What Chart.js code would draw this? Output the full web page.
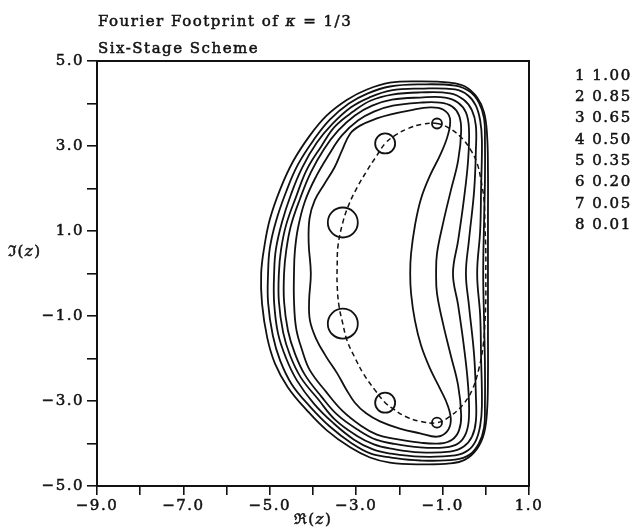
<!DOCTYPE html>
<html>
<head>
<meta charset="utf-8">
<script src="https://cdn.jsdelivr.net/npm/chart.js@4.4.1/dist/chart.umd.min.js"></script>
<style>
  html, body { margin: 0; padding: 0; background: #fff; }
  #wrap { width: 636px; height: 529px; }
</style>
</head>
<body>
<div id="wrap"><canvas id="c" width="636" height="529"></canvas></div>
<script>
// Contours of the amplification factor |g(z)|, outermost (1.00) to innermost
const level100 = [[0.05,0.00],[0.05,1.25],[0.05,2.42],[0.03,3.25],[-0.04,3.79],[-0.20,4.14],[-0.48,4.40],[-0.83,4.49],[-1.52,4.52],[-2.22,4.49],[-2.75,4.33],[-3.21,4.09],[-3.68,3.72],[-4.07,3.25],[-4.46,2.64],[-4.76,1.98],[-5.00,1.27],[-5.13,0.61],[-5.20,0.00],[-5.18,-0.71],[-5.06,-1.51],[-4.88,-2.12],[-4.58,-2.68],[-4.14,-3.22],[-3.68,-3.69],[-3.14,-4.09],[-2.68,-4.33],[-2.22,-4.45],[-1.52,-4.49],[-0.83,-4.47],[-0.48,-4.38],[-0.20,-4.12],[-0.04,-3.76],[0.03,-3.22],[0.05,-2.40],[0.05,-1.34]];
const level085 = [[-0.06,0.00],[-0.04,1.25],[-0.02,2.19],[-0.02,3.13],[-0.04,3.65],[-0.16,4.02],[-0.37,4.28],[-0.71,4.42],[-1.52,4.45],[-2.22,4.40],[-2.73,4.24],[-3.17,4.00],[-3.61,3.62],[-3.98,3.15],[-4.35,2.56],[-4.62,1.93],[-4.86,1.22],[-5.00,0.59],[-5.04,0.00],[-5.04,-0.68],[-4.93,-1.46],[-4.76,-2.05],[-4.49,-2.61],[-4.07,-3.13],[-3.61,-3.60],[-3.10,-4.00],[-2.66,-4.24],[-2.19,-4.33],[-1.52,-4.40],[-0.71,-4.38],[-0.37,-4.26],[-0.16,-4.00],[-0.04,-3.62],[-0.02,-3.11],[-0.02,-2.16],[-0.04,-1.11]];
const level065 = [[-0.20,0.00],[-0.13,1.01],[-0.11,1.95],[-0.09,3.13],[-0.13,3.60],[-0.23,3.95],[-0.41,4.19],[-0.71,4.33],[-1.52,4.35],[-2.19,4.31],[-2.70,4.14],[-3.12,3.91],[-3.54,3.53],[-3.91,3.08],[-4.25,2.49],[-4.51,1.86],[-4.72,1.20],[-4.86,0.56],[-4.90,0.00],[-4.90,-0.68],[-4.81,-1.41],[-4.62,-2.00],[-4.37,-2.52],[-3.98,-3.06],[-3.54,-3.51],[-3.05,-3.91],[-2.61,-4.14],[-2.19,-4.24],[-1.52,-4.31],[-0.71,-4.28],[-0.41,-4.16],[-0.23,-3.93],[-0.13,-3.58],[-0.09,-3.11],[-0.11,-1.93],[-0.13,-0.99]];
const level050 = [[-0.46,0.00],[-0.39,0.78],[-0.27,1.95],[-0.23,2.89],[-0.23,3.48],[-0.32,3.84],[-0.51,4.09],[-0.83,4.24],[-1.52,4.26],[-2.17,4.21],[-2.66,4.07],[-3.07,3.81],[-3.49,3.46],[-3.81,2.99],[-4.14,2.45],[-4.39,1.81],[-4.62,1.15],[-4.74,0.56],[-4.79,0.00],[-4.79,-0.66],[-4.69,-1.39],[-4.53,-1.93],[-4.28,-2.45],[-3.88,-2.96],[-3.49,-3.44],[-3.00,-3.81],[-2.59,-4.02],[-2.19,-4.12],[-1.52,-4.21],[-0.83,-4.19],[-0.51,-4.07],[-0.32,-3.84],[-0.23,-3.48],[-0.23,-2.87],[-0.27,-1.93],[-0.39,-0.75]];
const level035 = [[-0.76,0.00],[-0.64,0.78],[-0.51,1.72],[-0.41,2.66],[-0.39,3.41],[-0.46,3.79],[-0.64,4.02],[-0.94,4.14],[-1.52,4.14],[-2.17,4.09],[-2.63,3.95],[-3.03,3.72],[-3.42,3.36],[-3.75,2.92],[-4.05,2.38],[-4.30,1.76],[-4.51,1.13],[-4.62,0.54],[-4.67,0.00],[-4.67,-0.66],[-4.58,-1.34],[-4.42,-1.88],[-4.19,-2.38],[-3.81,-2.89],[-3.42,-3.34],[-2.94,-3.69],[-2.54,-3.91],[-2.17,-4.00],[-1.52,-4.09],[-0.94,-4.09],[-0.64,-4.00],[-0.46,-3.76],[-0.39,-3.39],[-0.41,-2.64],[-0.51,-1.69],[-0.64,-0.75]];
const level020 = [[-1.15,0.00],[-1.13,0.47],[-0.99,1.18],[-0.81,1.95],[-0.64,2.66],[-0.57,3.36],[-0.62,3.72],[-0.78,3.93],[-1.06,4.02],[-1.52,4.02],[-2.15,3.95],[-2.59,3.81],[-2.96,3.60],[-3.33,3.25],[-3.63,2.80],[-3.93,2.28],[-4.19,1.69],[-4.35,1.06],[-4.42,0.52],[-4.44,0.00],[-4.44,-0.64],[-4.39,-1.29],[-4.25,-1.81],[-4.07,-2.28],[-3.70,-2.78],[-3.33,-3.22],[-2.89,-3.58],[-2.52,-3.79],[-2.17,-3.88],[-1.52,-3.98],[-1.06,-4.00],[-0.78,-3.91],[-0.62,-3.69],[-0.57,-3.34],[-0.64,-2.64],[-0.81,-1.93],[-0.99,-1.18],[-1.13,-0.47]];
const level005 = [[-1.75,0.00],[-1.73,0.47],[-1.64,1.13],[-1.50,1.76],[-1.29,2.31],[-1.06,2.78],[-0.88,3.25],[-0.83,3.65],[-0.99,3.86],[-1.29,3.91],[-1.75,3.84],[-2.22,3.74],[-2.52,3.65],[-2.91,3.48],[-3.14,3.29],[-3.33,2.89],[-3.50,2.50],[-3.74,2.10],[-3.96,1.72],[-4.08,1.30],[-4.10,0.72],[-4.05,0.00],[-4.09,-0.64],[-4.07,-1.11],[-3.93,-1.53],[-3.70,-1.95],[-3.44,-2.35],[-3.24,-2.71],[-3.03,-3.04],[-2.77,-3.29],[-2.45,-3.48],[-1.99,-3.65],[-1.52,-3.76],[-1.13,-3.84],[-0.90,-3.72],[-0.81,-3.46],[-0.88,-3.11],[-1.06,-2.71],[-1.29,-2.24],[-1.50,-1.69],[-1.64,-1.11],[-1.73,-0.47]];

// Fourier footprint of the spatial operator (dashed loop)
const footprint = [[-1.13,3.53],[-0.83,3.41],[-0.55,3.18],[-0.34,2.89],[-0.20,2.59],[-0.11,2.19],[-0.04,1.72],[-0.02,1.13],[0.00,0.54],[0.00,0.00],[0.00,-0.59],[-0.02,-1.15],[-0.06,-1.69],[-0.16,-2.24],[-0.32,-2.75],[-0.55,-3.11],[-0.83,-3.36],[-1.13,-3.51],[-1.52,-3.48],[-1.87,-3.36],[-2.15,-3.18],[-2.33,-3.04],[-2.56,-2.75],[-2.82,-2.38],[-3.03,-1.98],[-3.21,-1.58],[-3.31,-1.18],[-3.40,-0.75],[-3.44,-0.28],[-3.44,0.19],[-3.42,0.66],[-3.31,1.20],[-3.17,1.62],[-2.98,2.02],[-2.75,2.42],[-2.52,2.78],[-2.33,3.06],[-2.10,3.25],[-1.80,3.41],[-1.48,3.51]];

// Marked footprint points (circled)
const markedPoints = [[-1.13,3.53],[-2.33,3.06],[-3.31,1.20],[-3.31,-1.18],[-2.33,-3.04],[-1.13,-3.51]];

// Axis ticks and legend entries
const xTickValues = [-9, -7, -5, -3, -1, 1];
const xTickLabels = ['\u22129.0', '\u22127.0', '\u22125.0', '\u22123.0', '\u22121.0', '1.0'];
const yTickValues = [-5, -3, -1, 1, 3, 5];
const yTickLabels = ['\u22125.0', '\u22123.0', '\u22121.0', '1.0', '3.0', '5.0'];
const levelNumbers = ['1', '2', '3', '4', '5', '6', '7', '8'];
const levelValues = ['1.00', '0.85', '0.65', '0.50', '0.35', '0.20', '0.05', '0.01'];

const SERIF = '"DejaVu Serif", "Liberation Serif", serif';
const INK = '#111';
const TEXT_SIZE = 15;
const TRACKING = '1.5px';

const toPoints = pts => pts.map(([x, y]) => ({ x, y }));

const contourSets = [level100, level085, level065, level050, level035, level020, level005];
const contourDatasets = contourSets.map((pts, i) => ({
  label: 'level ' + levelValues[i],
  data: toPoints(pts),
  closedCurve: true,
  showLine: true,
  borderColor: INK,
  borderWidth: 1.8,
  pointRadius: 0,
  tension: 0.4,
  fill: false
}));

const footprintDataset = {
  label: 'footprint',
  data: toPoints(footprint),
  closedCurve: true,
  showLine: true,
  borderColor: INK,
  borderWidth: 1.5,
  borderDash: [5, 3.5],
  pointRadius: 0,
  tension: 0.4,
  fill: false
};

const markerDataset = {
  label: 'marked',
  data: toPoints(markedPoints),
  showLine: false,
  pointStyle: 'circle',
  pointRadius: [5, 10, 15, 15, 10, 5],
  pointBorderWidth: 1.8,
  pointBorderColor: INK,
  pointBackgroundColor: 'rgba(0,0,0,0)'
};

// Join the last point of each contour back to its first with a smooth spline
const closeCurves = {
  id: 'closeCurves',
  afterDatasetsUpdate(chart) {
    chart.data.datasets.forEach((ds, i) => {
      if (!ds.closedCurve) return;
      const line = chart.getDatasetMeta(i).dataset;
      if (!line) return;
      line._loop = true;
      line._fullLoop = true;
      delete line._segments;
      line._path = undefined;
      line._pointsUpdated = false;
    });
  }
};

// Draws a row of text runs, some of them italic
function drawRuns(ctx, runs, x, y, align) {
  const fontFor = r => (r.italic ? 'italic ' : '') + TEXT_SIZE + 'px ' + SERIF;
  let total = 0;
  runs.forEach(r => { ctx.font = fontFor(r); total += ctx.measureText(r.text).width; });
  let cx = align === 'center' ? x - total / 2 : x;
  ctx.textAlign = 'left';
  ctx.textBaseline = 'middle';
  runs.forEach(r => {
    ctx.font = fontFor(r);
    ctx.strokeText(r.text, cx, y);
    ctx.fillText(r.text, cx, y);
    cx += ctx.measureText(r.text).width;
  });
}

const annotations = {
  id: 'annotations',
  beforeDraw(chart) {
    chart.ctx.letterSpacing = TRACKING;
  },
  afterDraw(chart) {
    const { ctx, chartArea: a } = chart;
    ctx.save();
    // frame around the plotting area
    ctx.strokeStyle = INK;
    ctx.lineWidth = 2;
    ctx.strokeRect(a.left, a.top, a.right - a.left, a.bottom - a.top);

    ctx.fillStyle = INK;
    ctx.lineWidth = 0.5;
    ctx.letterSpacing = TRACKING;
    drawRuns(ctx, [{ text: 'Fourier Footprint of ' }, { text: '\u03BA', italic: true }, { text: ' = 1/3' }], a.left + 1, 22, 'left');
    drawRuns(ctx, [{ text: 'Six-Stage Scheme' }], a.left + 1, 49, 'left');

    // axis titles
    drawRuns(ctx, [{ text: '\u211C(' }, { text: 'z', italic: true }, { text: ')' }], (a.left + a.right) / 2, 520, 'center');
    drawRuns(ctx, [{ text: '\u2111(' }, { text: 'z', italic: true }, { text: ')' }], 8, 252, 'left');

    // contour level key
    levelNumbers.forEach((n, i) => {
      drawRuns(ctx, [{ text: n + ' ' + levelValues[i] }], 575, 76 + i * 21.3, 'left');
    });
    ctx.restore();
    ctx.letterSpacing = '0px';
  }
};

const axisStyle = (values, labels, tickLength, padding) => ({
  type: 'linear',
  ticks: {
    stepSize: 1,
    autoSkip: false,
    maxRotation: 0,
    padding: padding,
    color: INK,
    textStrokeColor: INK,
    textStrokeWidth: 0.5,
    font: { family: SERIF, size: TEXT_SIZE },
    callback: v => {
      const i = values.indexOf(Math.round(v));
      return i >= 0 ? labels[i] : '';
    }
  },
  grid: { drawOnChartArea: false, drawTicks: true, tickLength: tickLength, color: INK, lineWidth: 1.6 },
  border: { display: true, color: INK, width: 2 }
});

const xAxis = Object.assign(axisStyle(xTickValues, xTickLabels, 9, 2), {
  min: -9, max: 1,
  afterFit(s) { s.height = 43; }
});
const yAxis = Object.assign(axisStyle(yTickValues, yTickLabels, 10, 3), {
  min: -5, max: 5,
  afterFit(s) { s.width = 97; }
});

new Chart(document.getElementById('c'), {
  type: 'scatter',
  data: { datasets: contourDatasets.concat([footprintDataset, markerDataset]) },
  options: {
    responsive: false,
    animation: false,
    devicePixelRatio: 1,
    layout: { padding: { top: 61, right: 107, left: 0, bottom: 0 } },
    plugins: { legend: { display: false }, tooltip: { enabled: false }, title: { display: false } },
    scales: { x: xAxis, y: yAxis }
  },
  plugins: [closeCurves, annotations]
});
</script>
</body>
</html>
